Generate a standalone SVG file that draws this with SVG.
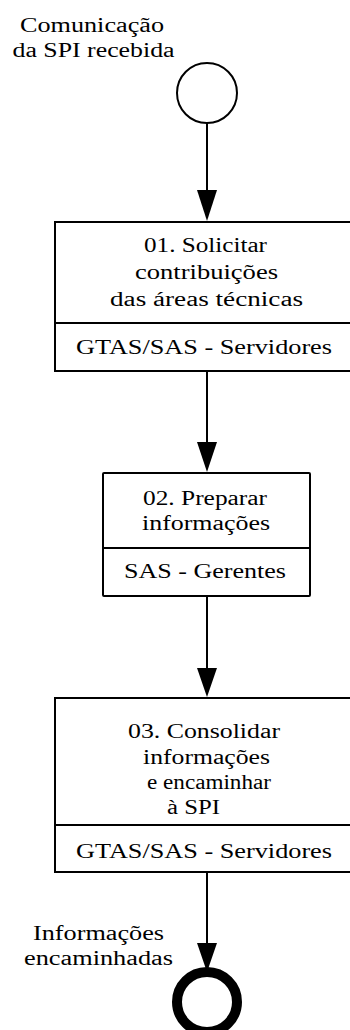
<svg xmlns="http://www.w3.org/2000/svg" width="350" height="1030" viewBox="0 0 350 1030">
<style>
.t{font-family:"Liberation Serif","Times New Roman",serif;font-size:20px;fill:#000}
.box{fill:#fff;stroke:#000;stroke-width:2}
.sep{stroke:#000;stroke-width:2}
.edge{stroke:#000;stroke-width:2;fill:none}
.head{fill:#000;stroke:none}
</style>
<rect width="350" height="1030" fill="#fff"/>
<g id="start">
<circle cx="207" cy="93" r="30" fill="#fff" stroke="#000" stroke-width="2"/>
<text class="t" x="20" y="32" textLength="144" lengthAdjust="spacingAndGlyphs">Comunicação</text>
<text class="t" x="12.5" y="57" textLength="162" lengthAdjust="spacingAndGlyphs">da SPI recebida</text>
</g>
<g id="connectors">
<line class="edge" x1="207" y1="123" x2="207" y2="195"/>
<polygon class="head" points="197,190 217,190 207,221"/>
<line class="edge" x1="207" y1="371" x2="207" y2="447"/>
<polygon class="head" points="197,442 217,442 207,472"/>
<line class="edge" x1="207" y1="596" x2="207" y2="673"/>
<polygon class="head" points="197,668 217,668 207,697"/>
<line class="edge" x1="207" y1="872" x2="207" y2="948"/>
<polygon class="head" points="197,943 217,943 207,972"/>
</g>
<g id="task01">
<rect class="box" x="55" y="222" width="304" height="149"/>
<line class="sep" x1="55" y1="323" x2="359" y2="323"/>
<text class="t" x="144" y="252" textLength="123" lengthAdjust="spacingAndGlyphs">01. Solicitar</text>
<text class="t" x="135" y="279" textLength="143" lengthAdjust="spacingAndGlyphs">contribuições</text>
<text class="t" x="110" y="306" textLength="193" lengthAdjust="spacingAndGlyphs">das áreas técnicas</text>
<text class="t" x="76" y="354" textLength="256" lengthAdjust="spacingAndGlyphs">GTAS/SAS - Servidores</text>
</g>
<g id="task02">
<rect class="box" x="103" y="473" width="207" height="123" rx="1"/>
<line class="sep" x1="103" y1="548" x2="310" y2="548"/>
<text class="t" x="143" y="505" textLength="124" lengthAdjust="spacingAndGlyphs">02. Preparar</text>
<text class="t" x="142" y="530" textLength="128" lengthAdjust="spacingAndGlyphs">informações</text>
<text class="t" x="124" y="578" textLength="162" lengthAdjust="spacingAndGlyphs">SAS - Gerentes</text>
</g>
<g id="task03">
<rect class="box" x="55" y="698" width="304" height="174"/>
<line class="sep" x1="55" y1="825" x2="359" y2="825"/>
<text class="t" x="128" y="738" textLength="152" lengthAdjust="spacingAndGlyphs">03. Consolidar</text>
<text class="t" x="143" y="764" textLength="127" lengthAdjust="spacingAndGlyphs">informações</text>
<text class="t" x="147" y="789" textLength="124" lengthAdjust="spacingAndGlyphs">e encaminhar</text>
<text class="t" x="167" y="814" textLength="53" lengthAdjust="spacingAndGlyphs">à SPI</text>
<text class="t" x="76" y="858" textLength="256" lengthAdjust="spacingAndGlyphs">GTAS/SAS - Servidores</text>
</g>
<g id="end">
<circle cx="207" cy="1002" r="30" fill="#fff" stroke="#000" stroke-width="10"/>
<text class="t" x="33" y="940" textLength="131" lengthAdjust="spacingAndGlyphs">Informações</text>
<text class="t" x="24" y="965" textLength="149" lengthAdjust="spacingAndGlyphs">encaminhadas</text>
</g>
</svg>
